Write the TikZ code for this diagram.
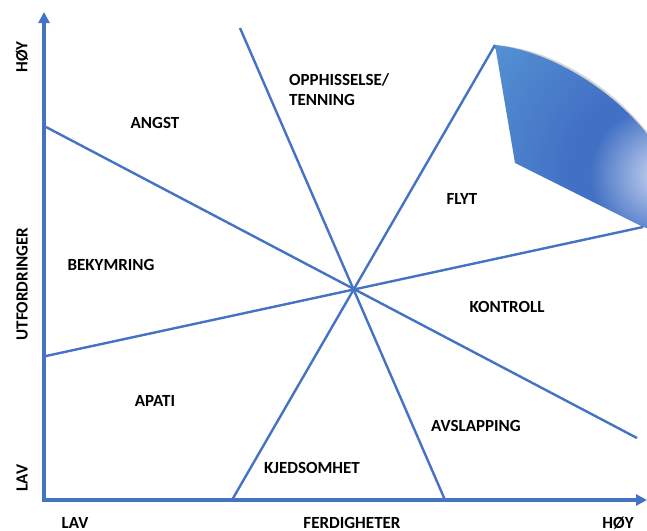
\documentclass[tikz,border=0pt]{standalone}
\usepackage{fontspec}
\setmainfont{Carlito}
\usetikzlibrary{arrows.meta}
\definecolor{lineblue}{HTML}{4472C4}
\definecolor{shadeL}{RGB}{86,148,212}
\definecolor{shadeM}{RGB}{66,112,196}
\definecolor{shadeR}{RGB}{172,192,232}
\pgfdeclareradialshading{sectshade}{\pgfpoint{0bp}{0bp}}{%
  color(0bp)=(shadeR); color(1.5bp)=(shadeR); color(7bp)=(shadeM);
  color(9bp)=(shadeM); color(22bp)=(shadeL); color(50bp)=(shadeL)}
\tikzset{
  zone/.style={draw=lineblue, line width=2.4pt},
  axis/.style={draw=lineblue, line width=3.2pt, -{Triangle[length=11pt,width=11pt]}},
  lbl/.style={font=\bfseries\fontsize{17}{20}\selectfont, inner sep=0pt},
  axlbl/.style={font=\bfseries\fontsize{17}{20}\selectfont, inner sep=0pt},
}
\begin{document}
\begin{tikzpicture}[x=1pt,y=-1pt]
\useasboundingbox (0,0) rectangle (647,530);
% coordinates
\coordinate (O) at (44,500);
\coordinate (Ytip) at (44,12);
\coordinate (Xtip) at (647,500);
\coordinate (a1) at (46,127);
\coordinate (a2) at (637,438);
\coordinate (b1) at (46,356);
\coordinate (b2) at (643,227);
\coordinate (c1) at (240,28);
\coordinate (c2) at (445,500);
\coordinate (d1) at (232,500);
\coordinate (d2) at (495,45);
\coordinate (s0) at (515,163);
% blue sector
\begin{scope}
\clip (0,0) rectangle (647,530);
\draw[gray, line width=2.2pt, opacity=0.35] ([xshift=1.3pt,yshift=-1.3pt]d2) .. controls (546,49) and (611,84) .. (651,139);
\begin{scope}
\clip (s0) -- (d2) .. controls (545,50) and (610,85) .. (652,140) -- (660,232) -- (b2) -- cycle;
\shade[shading=sectshade] (660,175) circle (250);
\end{scope}
\end{scope}
% zone lines
\draw[zone] (a1) -- (a2);
\draw[zone] (b1) -- (b2);
\draw[zone] (c1) -- (c2);
\draw[zone] (d1) -- (d2);
% axes
\draw[axis] ([yshift=1.6pt]O) -- (Ytip);
\draw[axis] ([xshift=-1.6pt]O) -- (Xtip);
% zone labels
\node[lbl] (angst) at (155,123) {ANGST};
\node[lbl, align=left, anchor=west] (opp) at (289,90) {OPPHISSELSE/\\TENNING};
\node[lbl] (flyt) at (462,199) {FLYT};
\node[lbl] (bek) at (111,265) {BEKYMRING};
\node[lbl] (kon) at (507,307) {KONTROLL};
\node[lbl] (apati) at (155,401) {APATI};
\node[lbl] (avs) at (476,426) {AVSLAPPING};
\node[lbl] (kjed) at (312,468) {KJEDSOMHET};
% axis labels
\node[axlbl, rotate=90] (yhoy) at (22,57) {HØY};
\node[axlbl, rotate=90] (yutf) at (22,284) {UTFORDRINGER};
\node[axlbl, rotate=90] (ylav) at (22,478) {LAV};
\node[axlbl] (xlav) at (75,523) {LAV};
\node[axlbl] (xfer) at (352,523) {FERDIGHETER};
\node[axlbl] (xhoy) at (618,523) {HØY};
\end{tikzpicture}
\end{document}
